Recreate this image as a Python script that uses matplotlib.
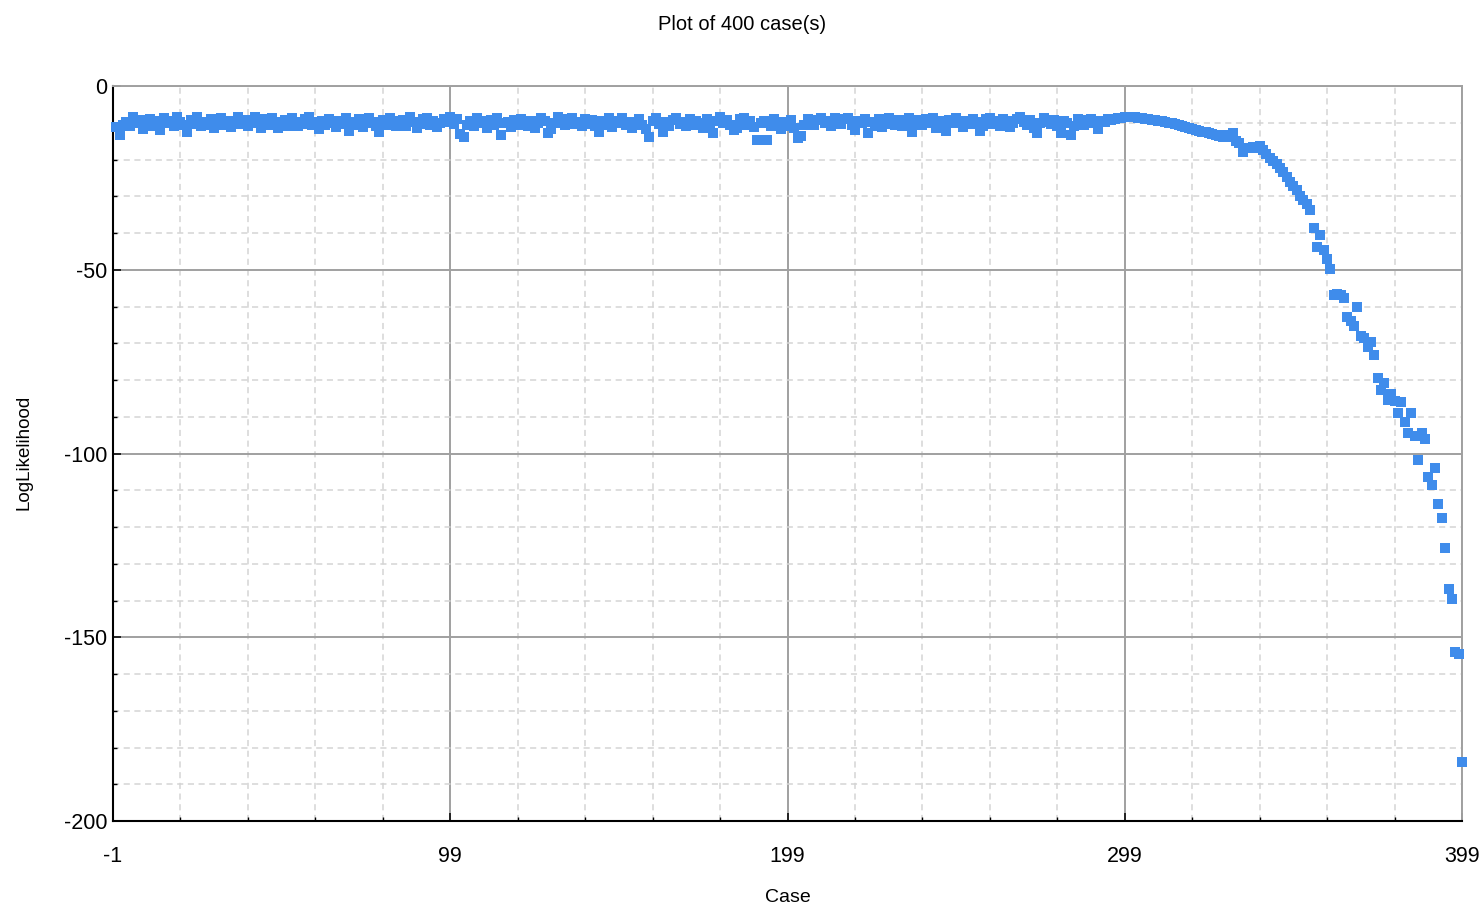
import numpy as np
import matplotlib.pyplot as plt
from matplotlib.ticker import MultipleLocator, FixedLocator

# log likelihood per case (cases 0..399)
flat_part = [
    -11.2, -13.3, -10.5, -9.8, -10.9, -8.4, -10.1, -9.3, -11.6, -10.4, -9.0, -10.8, -9.6, -11.9, -8.7, -10.2, -9.5, -10.9, -8.5, -9.9,
    -10.6, -12.5, -9.2, -10.3, -8.3, -11.0, -9.7, -10.5, -9.1, -11.4, -10.0, -8.6, -10.7, -9.4, -11.1, -9.8, -8.5, -10.4, -9.3, -10.9,
    -9.6, -8.4, -10.2, -11.3, -9.0, -10.6, -8.8, -9.9, -11.5, -10.1, -9.2, -10.8, -8.6, -9.7, -11.0, -10.3, -9.1, -8.5, -10.5, -9.8,
    -11.6, -9.4, -10.7, -8.9, -10.0, -11.2, -9.5, -10.4, -8.7, -12.3, -9.9, -10.6, -9.0, -11.1, -10.2, -8.6, -9.7, -10.9, -12.4, -9.3,
    -10.5, -8.8, -9.6, -11.0, -10.1, -9.2, -10.8, -8.5, -9.9, -11.3, -10.4, -9.1, -8.7, -10.6, -9.5, -11.2, -10.0, -8.9, -9.8, -8.4,
    -10.3, -9.0, -13.1, -13.8, -10.7, -9.4, -11.0, -8.8, -10.2, -9.6, -11.4, -9.3, -10.5, -8.6, -13.3, -10.1, -9.7, -11.1, -9.2, -10.6,
    -8.9, -9.9, -10.8, -9.4, -11.3, -10.0, -8.7, -9.5, -12.9, -11.6, -10.2, -8.5, -9.8, -10.7, -9.1, -8.6, -10.4, -9.7, -11.0, -8.9,
    -10.3, -9.2, -10.9, -12.4, -9.6, -10.5, -8.8, -11.2, -10.1, -9.4, -8.6, -10.7, -9.9, -11.4, -10.2, -9.0, -10.6, -11.8, -13.8, -9.5,
    -8.7, -10.4, -12.5, -9.8, -10.9, -9.2, -8.6, -10.3, -9.7, -11.0, -8.9, -10.5, -9.4, -10.1, -11.3, -9.0, -10.8, -12.8, -9.6, -8.5,
    -10.2, -9.3, -10.7, -12.0, -11.5, -9.1, -8.8, -10.6, -9.5, -11.2, -14.7, -10.0, -9.4, -14.7, -10.9, -9.0, -10.3, -11.6, -9.7, -10.8,
    -9.3, -11.4, -14.2, -13.6, -10.5, -8.9, -9.8, -10.7, -9.2, -8.6, -10.1, -9.5, -10.9, -8.8, -9.9, -10.4, -9.1, -8.7, -10.6, -11.9,
    -9.4, -10.2, -8.9, -12.7, -9.7, -10.8, -9.0, -11.1, -10.3, -8.7, -9.6, -10.5, -9.2, -11.0, -9.9, -8.6, -12.5, -10.4, -9.3, -10.7,
    -9.0, -10.1, -8.8, -11.3, -9.5, -10.6, -12.2, -9.2, -10.0, -8.7, -9.8, -11.2, -9.4, -10.4, -8.9, -9.7, -12.2, -10.9, -9.1, -8.6,
    -10.3, -9.6, -10.8, -8.9, -9.4, -11.1, -10.2, -9.0, -8.5, -9.9, -10.6, -9.3, -11.5, -12.9, -10.1, -8.8, -9.7, -10.4, -9.2, -10.9,
    -12.8, -9.5, -10.2, -13.4, -11.0, -9.1, -9.8, -10.5, -9.3, -8.9, -10.0, -11.6, -9.4, -9.7, -9.0, -9.3, -8.9, -8.8, -8.6, -8.4,
]
tail_part = [
    -8.3, -8.4, -8.5, -8.6, -8.8, -8.9, -9.0, -9.2, -9.3, -9.4,
    -9.6, -9.8, -10.0, -10.2, -10.4, -10.6, -10.8, -11.1, -11.4, -11.7,
    -12.0, -12.2, -12.4, -12.5, -12.8, -13.1, -13.3, -13.5, -14.0, -13.2,
    -13.8, -12.9, -14.9, -15.4, -18.0, -17.0, -16.8, -16.5, -16.9, -16.2,
    -17.5, -18.4, -19.6, -20.3, -21.3, -22.3, -23.4, -24.8, -26.1, -27.3,
    -28.4, -29.8, -31.0, -32.2, -33.7, -38.7, -43.8, -40.5, -44.6, -47.2,
    -49.8, -56.9, -56.5, -57.0, -57.8, -62.8, -64.0, -65.2, -60.1, -68.0,
    -68.5, -71.0, -69.7, -73.3, -79.5, -82.7, -80.8, -85.4, -83.8, -85.8,
    -89.0, -86.0, -91.4, -94.4, -89.0, -95.3, -101.8, -94.4, -96.0, -106.5,
    -108.6, -103.9, -113.7, -117.5, -125.7, -136.9, -139.6, -154.0, -154.6, -184.0,
]
log_likelihood = flat_part + tail_part
cases = np.arange(len(log_likelihood))

x_ticks = [-1, 99, 199, 299, 399]

plt.rcParams['font.family'] = ['Liberation Sans', 'DejaVu Sans']
plt.rcParams['axes.unicode_minus'] = False

fig = plt.figure(figsize=(14.79, 9.08), dpi=100)
ax = fig.add_axes([113 / 1479, 1 - 821 / 908, (1462 - 113) / 1479, (821 - 86) / 908])

ax.plot(cases, log_likelihood, linestyle='none', marker='s', markersize=6.5,
        color='#3f8ceb', markeredgewidth=0, zorder=3, clip_on=False)

ax.set_xlim(-1, 399)
ax.set_ylim(-200, 0)
ax.xaxis.set_major_locator(FixedLocator(x_ticks))
ax.xaxis.set_minor_locator(FixedLocator([t for t in range(19, 399, 20) if (t + 1) % 100 != 0]))
ax.yaxis.set_major_locator(MultipleLocator(50))
ax.yaxis.set_minor_locator(MultipleLocator(10))

ax.grid(which='major', color='#a0a0a0', linestyle='-', linewidth=1.4)
ax.grid(which='minor', color='#d4d4d4', linestyle=(0, (4, 3)), linewidth=1.1)
ax.set_axisbelow(True)

ax.tick_params(which='major', direction='in', length=6, width=1.1, labelsize=15.5)
ax.tick_params(which='minor', direction='in', length=3, width=1.0)
ax.tick_params(axis='x', pad=18)
ax.tick_params(axis='y', pad=4)

for side in ['left', 'bottom']:
    ax.spines[side].set_color('black')
    ax.spines[side].set_linewidth(1.5)
for side in ['top', 'right']:
    ax.spines[side].set_color('#a0a0a0')
    ax.spines[side].set_linewidth(1.4)

fig.text(742 / 1479, 1 - 24 / 908, 'Plot of 400 case(s)', ha='center', va='center', fontsize=14.5)
fig.text(788 / 1479, 1 - 897 / 908, 'Case', ha='center', va='center', fontsize=14)
fig.text(24 / 1479, 1 - 452 / 908, 'LogLikelihood', ha='center', va='center', rotation=90, fontsize=13.5)

fig.savefig('out.png', dpi=100)
